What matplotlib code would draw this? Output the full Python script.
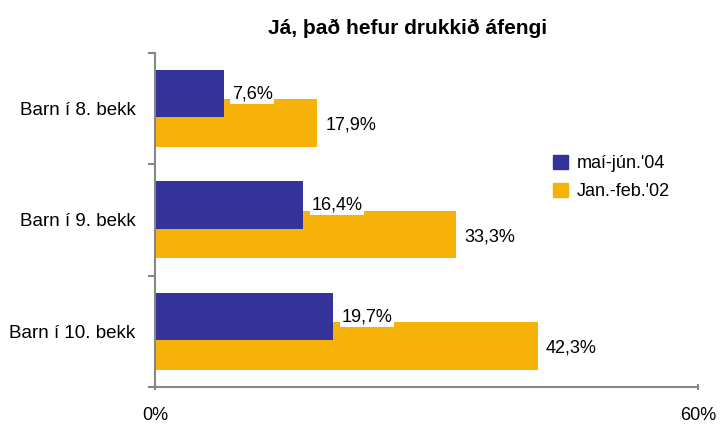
import numpy as np
import matplotlib
matplotlib.use('Agg')
import matplotlib.pyplot as plt
from matplotlib.patches import Patch

plt.rcParams['font.family'] = ['Liberation Sans', 'DejaVu Sans']

categories = ['Barn í 8. bekk', 'Barn í 9. bekk', 'Barn í 10. bekk']
vor04 = [7.6, 16.4, 19.7]
jan02 = [17.9, 33.3, 42.3]
series_names = ["maí-jún.'04", "Jan.-feb.'02"]
navy = '#333399'
orange = '#F7B20A'
axcol = '#868686'

fig = plt.figure(figsize=(7.21, 4.26), dpi=100)
ax = fig.add_axes([0.215, 0.0915, 0.753, 0.785])

y = np.arange(len(categories)) + 0.5
h = 0.425
off = 0.132
ax.barh(y - off, vor04, height=h, color=navy, zorder=2)
ax.barh(y + off, jan02, height=h, color=orange, zorder=1)

def fmt(v):
    return ('%.1f%%' % v).replace('.', ',')

for yi, v in zip(y, vor04):
    ax.text(v + 0.9, yi - off, fmt(v), va='center', ha='left', fontsize=13,
            bbox=dict(facecolor='white', edgecolor='none', pad=1.0), zorder=3)
for yi, v in zip(y, jan02):
    ax.text(v + 0.9, yi + off + 0.02, fmt(v), va='center', ha='left', fontsize=13,
            zorder=3)

ax.set_xlim(0, 60)
ax.set_ylim(3, 0)
ax.set_xticks([0, 60])
ax.set_xticklabels(['0%', '60%'], fontsize=13)
ax.set_yticks([0, 1, 2, 3])
ax.set_yticklabels([])
ax.set_yticks(y, minor=True)
ax.set_yticklabels(categories, minor=True, fontsize=13.5)
ax.tick_params(axis='y', which='minor', length=0, pad=14)
ax.tick_params(axis='y', which='major', length=5, width=1.5, color=axcol, direction='out')
ax.tick_params(axis='x', length=5, width=1.5, color=axcol, direction='inout', pad=12)

for s in ['top', 'right']:
    ax.spines[s].set_visible(False)
for s in ['left', 'bottom']:
    ax.spines[s].set_color(axcol)
    ax.spines[s].set_linewidth(1.5)

handles = [Patch(color=navy), Patch(color=orange)]
fig.legend(handles, series_names, loc='upper left', bbox_to_anchor=(0.745, 0.675),
           frameon=False, fontsize=13, handlelength=0.8, handleheight=0.8,
           handletextpad=0.5, labelspacing=0.6)

fig.text(0.565, 0.933, 'Já, það hefur drukkið áfengi', ha='center', va='center',
         fontsize=15, fontweight='bold')

fig.savefig('out.png', dpi=100)
